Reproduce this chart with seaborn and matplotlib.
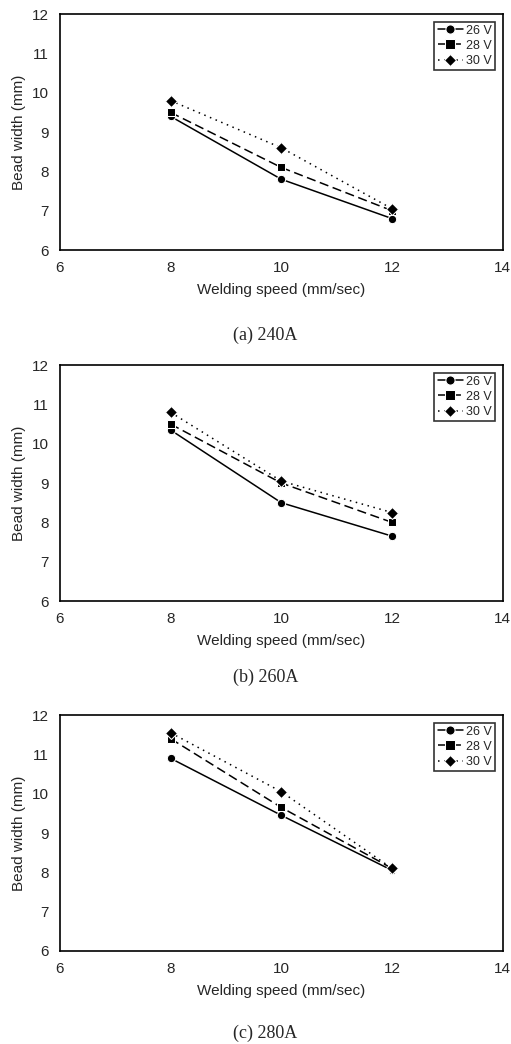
import pandas as pd
import seaborn as sns
import matplotlib.pyplot as plt

# Data
speed = [8, 10, 12]
voltages = ['26 V', '28 V', '30 V']
width_240 = {'26 V': [9.4, 7.8, 6.8], '28 V': [9.5, 8.1, 7.0], '30 V': [9.8, 8.6, 7.05]}
width_260 = {'26 V': [10.35, 8.5, 7.65], '28 V': [10.5, 9.0, 8.0], '30 V': [10.8, 9.05, 8.25]}
width_280 = {'26 V': [10.9, 9.45, 8.05], '28 V': [11.4, 9.65, 8.1], '30 V': [11.55, 10.05, 8.1]}
captions = ['(a) 240A', '(b) 260A', '(c) 280A']

sns.set_style('white')
plt.rcParams['font.family'] = ['Liberation Sans', 'DejaVu Sans']

fig = plt.figure(figsize=(5.11, 10.44), dpi=100)

panels = [width_240, width_260, width_280]
bottoms = [0.7605, 0.4243, 0.0891]
cap_y = [0.679, 0.3515, 0.0105]

markers = {'26 V': 'o', '28 V': 's', '30 V': 'D'}
dashes = {'26 V': '', '28 V': (6, 3), '30 V': (1, 3)}
palette = {v: 'black' for v in voltages}

for vals, b, cy, cap in zip(panels, bottoms, cap_y, captions):
    rows = []
    for v in voltages:
        for s, w in zip(speed, vals[v]):
            rows.append({'speed': s, 'width': w, 'voltage': v})
    df = pd.DataFrame(rows)

    ax = fig.add_axes([0.117, b, 0.867, 0.226])
    sns.lineplot(data=df, x='speed', y='width', hue='voltage', style='voltage',
                 palette=palette, markers=markers, dashes=dashes,
                 markersize=6, linewidth=1.1, ax=ax)
    ax.set_xlim(6, 14)
    ax.set_ylim(6, 12)
    ax.set_xticks([6, 8, 10, 12, 14])
    ax.set_yticks([6, 7, 8, 9, 10, 11, 12])
    ax.tick_params(length=0, labelsize=11, pad=8)
    ax.set_xlabel('Welding speed (mm/sec)', fontsize=11, labelpad=6)
    ax.set_ylabel('Bead width (mm)', fontsize=11, labelpad=4)
    for sp in ax.spines.values():
        sp.set_color('black')
        sp.set_linewidth(1.2)
    leg = ax.legend(loc='upper right', fontsize=9, frameon=True, fancybox=False,
                    handlelength=2.0, borderpad=0.25, labelspacing=0.25,
                    handletextpad=0.3, borderaxespad=0.6, markerscale=1.1)
    leg.get_frame().set_edgecolor('black')
    leg.get_frame().set_linewidth(1.2)
    fig.text(0.519, cy, cap, ha='center', va='center', fontsize=13,
             family=['Liberation Serif', 'DejaVu Serif'])

fig.savefig('out.png', dpi=100)
